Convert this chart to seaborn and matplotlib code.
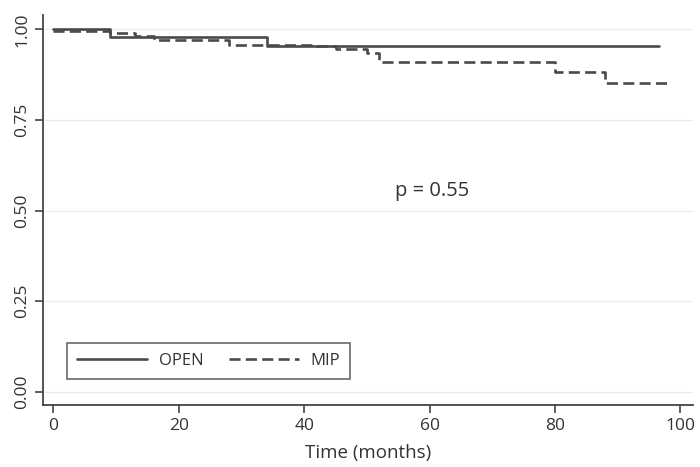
import numpy as np
import pandas as pd
import matplotlib
matplotlib.use("Agg")
import matplotlib.pyplot as plt
import seaborn as sns

# Kaplan-Meier step values
open_time = [0, 9, 34, 96.5]
open_surv = [1.0, 0.978, 0.954, 0.954]
mip_time = [0, 9, 13, 16, 28, 41, 45, 50, 52, 80, 88, 98.5]
mip_surv = [0.995, 0.99, 0.982, 0.97, 0.958, 0.955, 0.945, 0.934, 0.91, 0.883, 0.852, 0.852]
groups = ["OPEN", "MIP"]

data = pd.concat([
    pd.DataFrame({"time": open_time, "surv": open_surv, "group": "OPEN"}),
    pd.DataFrame({"time": mip_time, "surv": mip_surv, "group": "MIP"}),
])

sns.set_style("white")
plt.rcParams['font.family'] = ['Open Sans', 'DejaVu Sans']

fig = plt.figure(figsize=(7, 4.67), dpi=100)
ax = fig.add_axes([0.062, 0.133, 0.928, 0.835])
sns.lineplot(data=data, x="time", y="surv", style="group", style_order=groups,
             dashes={"OPEN": "", "MIP": (4.2, 2)}, color="#4a4a4a", linewidth=1.9,
             estimator=None, drawstyle="steps-post", ax=ax)

ax.set_xlim(-1.6, 102)
ax.set_ylim(-0.036, 1.04)
ax.set_xticks([0, 20, 40, 60, 80, 100])
ax.set_yticks([0, 0.25, 0.5, 0.75, 1.0])
ax.set_yticklabels(["0.00", "0.25", "0.50", "0.75", "1.00"], rotation=90, va="center")
ax.yaxis.grid(True, color="#ececec", linewidth=1)
ax.set_axisbelow(True)
for s in ["top", "right"]:
    ax.spines[s].set_visible(False)
for s in ["left", "bottom"]:
    ax.spines[s].set_color("#444444")
    ax.spines[s].set_linewidth(1.3)
ax.tick_params(axis="both", direction="out", length=6, width=1.2, color="#444444",
               labelsize=12.5, labelcolor="#333333", left=True, bottom=True)
ax.set_xlabel("Time (months)", fontsize=13.5, color="#333333", labelpad=7)
ax.set_ylabel("")

ax.text(60.4, 0.555, "p = 0.55", fontsize=14.5, color="#333333", ha="center", va="center")

leg = ax.legend(loc="lower left", bbox_to_anchor=(0.024, 0.046), ncol=2, frameon=True,
                fancybox=False, edgecolor="#444444", fontsize=12, handlelength=4.2,
                handletextpad=0.7, columnspacing=1.5, borderpad=0.6)
leg.get_frame().set_linewidth(1.2)
for t in leg.get_texts():
    t.set_color("#333333")

fig.savefig("out.png", dpi=100)
